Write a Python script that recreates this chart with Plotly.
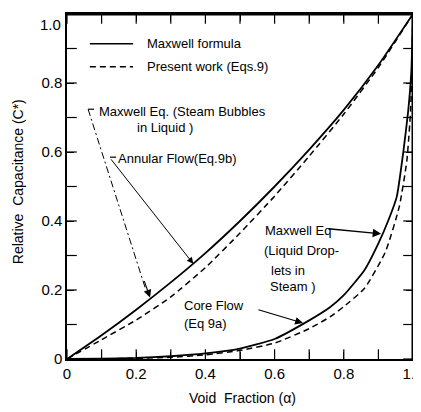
import plotly.graph_objects as go

# ---- data ----
alpha_bubbles = [0, 0.1, 0.2, 0.3, 0.4, 0.5, 0.6, 0.7, 0.8, 0.9, 1.0]
c_maxwell_bubbles = [0, 0.069, 0.143, 0.222, 0.307, 0.400, 0.500, 0.607, 0.722, 0.852, 1.0]

alpha_annular = [0, 0.1, 0.2, 0.3, 0.4, 0.5, 0.6, 0.7, 0.8, 0.9, 1.0]
c_present_annular = [0, 0.056, 0.113, 0.180, 0.265, 0.365, 0.472, 0.588, 0.710, 0.845, 1.0]

alpha_drops = [0, 0.1, 0.2, 0.3, 0.4, 0.5, 0.6, 0.7, 0.76, 0.8, 0.86, 0.9, 0.93, 0.953, 0.972, 0.986, 0.995, 1.0]
c_maxwell_drops = [0, 0.001, 0.003, 0.008, 0.016, 0.030, 0.058, 0.112, 0.150, 0.185, 0.258, 0.335, 0.405, 0.470, 0.600, 0.718, 0.830, 1.0]

alpha_core = [0, 0.1, 0.2, 0.3, 0.4, 0.5, 0.6, 0.7, 0.76, 0.8, 0.86, 0.92, 0.96, 0.982, 0.993, 1.0]
c_present_core = [0, 0.0005, 0.002, 0.005, 0.012, 0.025, 0.046, 0.088, 0.122, 0.152, 0.205, 0.310, 0.440, 0.573, 0.720, 1.0]

tick_vals = [0, 0.1, 0.2, 0.3, 0.4, 0.5, 0.6, 0.7, 0.8, 0.9, 1.0]
x_tick_text = ["0", "", "0.2", "", "0.4", "", "0.6", "", "0.8", "", "1.0"]
y_tick_text = ["0", "", "0.2", "", "0.4", "", "0.6", "", "0.8", "", ""]
y_top_label = "1.0"

FONT = "Liberation Sans"
BLACK = "black"

fig = go.Figure()
solid = dict(color=BLACK, width=1.8, shape="spline", smoothing=0.5)
dashed = dict(color=BLACK, width=1.5, dash="6px,4px", shape="spline", smoothing=0.5)

fig.add_trace(go.Scatter(x=alpha_bubbles, y=c_maxwell_bubbles, mode="lines", line=solid, showlegend=False))
fig.add_trace(go.Scatter(x=alpha_annular, y=c_present_annular, mode="lines", line=dashed, showlegend=False))
fig.add_trace(go.Scatter(x=alpha_drops, y=c_maxwell_drops, mode="lines", line=solid, showlegend=False))
fig.add_trace(go.Scatter(x=alpha_core, y=c_present_core, mode="lines", line=dashed, showlegend=False))

# tick marks on all four sides, placed through the axes' own scales
# (markers clipped to the plot area, so only the inner half shows)
n = len(tick_vals)
tick_mark = dict(color=BLACK, size=14, line=dict(color=BLACK, width=1.2))
fig.add_trace(go.Scatter(x=tick_vals + tick_vals, y=[0] * n + [1] * n, mode="markers",
                         marker=dict(tick_mark, symbol="line-ns"), hoverinfo="skip",
                         showlegend=False))
fig.add_trace(go.Scatter(x=[0] * n + [1] * n, y=tick_vals + tick_vals, mode="markers",
                         marker=dict(tick_mark, symbol="line-ew"), hoverinfo="skip",
                         showlegend=False))

shapes = [
    # top and right frame edges
    dict(type="line", xref="x", yref="y", x0=0, x1=1, y0=1, y1=1,
         line=dict(color=BLACK, width=3)),
    dict(type="line", xref="x", yref="y", x0=1, x1=1, y0=0, y1=1,
         line=dict(color=BLACK, width=3)),
    # legend samples
    dict(type="line", xref="x", yref="y", x0=0.066, x1=0.191, y0=0.914, y1=0.914,
         line=dict(color=BLACK, width=1.5)),
    dict(type="line", xref="x", yref="y", x0=0.066, x1=0.191, y0=0.847, y1=0.847,
         line=dict(color=BLACK, width=1.5, dash="6px,4px")),
    # Maxwell (bubbles) bracket + dash-dot leader
    dict(type="line", xref="x", yref="y", x0=0.061, x1=0.078, y0=0.724, y1=0.724,
         line=dict(color=BLACK, width=1.2)),
    dict(type="line", xref="x", yref="y", x0=0.061, x1=0.228, y0=0.724, y1=0.200,
         line=dict(color=BLACK, width=1, dash="7px,3px,2px,3px")),
    # Annular bracket + leader
    dict(type="line", xref="x", yref="y", x0=0.124, x1=0.142, y0=0.585, y1=0.585,
         line=dict(color=BLACK, width=1.2)),
]

def txt(x, y, s, size=13):
    return dict(x=x, y=y, xref="x", yref="y", text=s, showarrow=False,
                xanchor="left", yanchor="middle", font=dict(family=FONT, size=size, color=BLACK))

def arrow(x, y, ax, ay, head=2, size=1.2, width=1.1):
    return dict(x=x, y=y, ax=ax, ay=ay, xref="x", yref="y", axref="x", ayref="y",
                text="", showarrow=True, arrowhead=head, arrowsize=size,
                arrowwidth=width, arrowcolor=BLACK)

annotations = [
    txt(0.225, 0.914, "Maxwell formula"),
    txt(0.225, 0.847, "Present work (Eqs.9)"),
    txt(0.087, 0.718, "Maxwell Eq. (Steam Bubbles"),
    txt(0.197, 0.671, "in Liquid )"),
    txt(0.142, 0.582, "Annular Flow(Eq.9b)"),
    txt(0.566, 0.372, "Maxwell Eq"),
    txt(0.563, 0.314, "(Liquid Drop-"),
    txt(0.584, 0.256, "lets in"),
    txt(0.581, 0.210, "Steam )"),
    txt(0.332, 0.156, "Core Flow"),
    txt(0.332, 0.104, "(Eq 9a)"),
    arrow(0.240, 0.178, 0.222, 0.230, head=2, size=1.4, width=1.1),
    arrow(0.365, 0.276, 0.124, 0.583, head=2, size=1.3, width=1.0),
    arrow(0.908, 0.363, 0.751, 0.378, head=2, size=1.3, width=1.3),
    arrow(0.682, 0.104, 0.549, 0.144, head=2, size=1.3, width=1.2),
    # top y tick label, kept inside the page (it sits just below the corner in the reference)
    dict(x=-0.012, y=1.0, xref="paper", yref="y", text=y_top_label, showarrow=False,
         xanchor="right", yanchor="top", font=dict(family=FONT, size=15, color=BLACK)),
    dict(x=-0.142, y=0.515, xref="paper", yref="paper", text="Relative  Capacitance (C*)",
         xanchor="center", yanchor="middle",
         showarrow=False, textangle=-90, font=dict(family=FONT, size=14, color=BLACK)),
    dict(x=0.506, y=-0.112, xref="paper", yref="paper", text="Void  Fraction (α)",
         xanchor="center", yanchor="middle",
         showarrow=False, font=dict(family=FONT, size=14, color=BLACK)),
]

xaxis = dict(range=[0, 1], showgrid=False, zeroline=False, showline=True,
             linecolor=BLACK, linewidth=1.5, mirror="allticks", ticks="inside",
             ticklen=7, tickwidth=1.2, tickcolor=BLACK,
             tickvals=tick_vals, ticktext=x_tick_text,
             tickfont=dict(family=FONT, size=15, color=BLACK))
yaxis = dict(range=[0, 1], showgrid=False, zeroline=False, showline=True,
             linecolor=BLACK, linewidth=1.5, mirror="allticks", ticks="inside",
             ticklen=7, tickwidth=1.2, tickcolor=BLACK,
             tickvals=tick_vals, ticktext=y_tick_text,
             tickfont=dict(family=FONT, size=15, color=BLACK))

# the page body adds an 8px offset; margins compensate so the plot area
# lands where it does in the reference
fig.update_layout(
    width=421, height=412,
    margin=dict(l=59, r=16, t=4, b=61),
    paper_bgcolor="white", plot_bgcolor="white",
    xaxis=xaxis, yaxis=yaxis,
    shapes=shapes, annotations=annotations,
    showlegend=False,
)

fig.write_html("out.html")
